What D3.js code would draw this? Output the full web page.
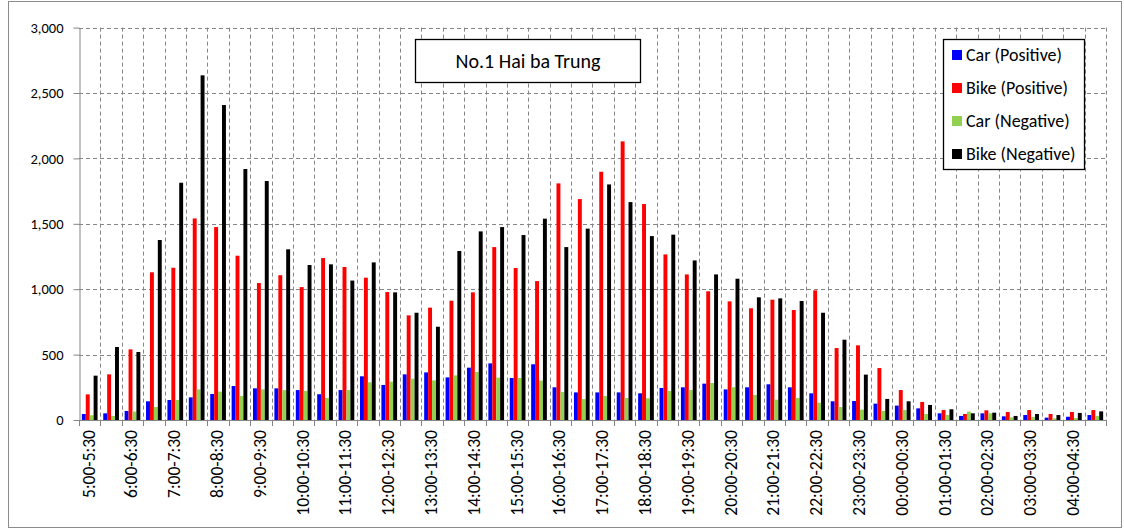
<!DOCTYPE html>
<html>
<head>
<meta charset="utf-8">
<script src="https://cdn.jsdelivr.net/npm/d3@7"></script>
<style>
  html, body { margin: 0; padding: 0; background: #fff; }
  svg { display: block; font-family: Carlito, Lato, "Open Sans", sans-serif; }
</style>
</head>
<body>
<svg id="chart" width="1124" height="530"></svg>
<script>
// Half-hour counting intervals, 5:00 through 04:30
const categories = [
  "5:00-5:30","5:30-6:00","6:00-6:30","6:30-7:00","7:00-7:30","7:30-8:00",
  "8:00-8:30","8:30-9:00","9:00-9:30","9:30-10:00","10:00-10:30","10:30-11:00",
  "11:00-11:30","11:30-12:00","12:00-12:30","12:30-13:00","13:00-13:30","13:30-14:00",
  "14:00-14:30","14:30-15:00","15:00-15:30","15:30-16:00","16:00-16:30","16:30-17:00",
  "17:00-17:30","17:30-18:00","18:00-18:30","18:30-19:00","19:00-19:30","19:30-20:00",
  "20:00-20:30","20:30-21:00","21:00-21:30","21:30-22:00","22:00-22:30","22:30-23:00",
  "23:00-23:30","23:30-00:00","00:00-00:30","00:30-01:00","01:00-01:30","01:30-02:00",
  "02:00-02:30","02:30-03:00","03:00-03:30","03:30-04:00","04:00-04:30","04:30-05:00"
];

const seriesNames = ["Car (Positive)", "Bike (Positive)", "Car (Negative)", "Bike (Negative)"];
const seriesColors = ["#0000FF", "#FF0000", "#92D050", "#000000"];

const carPositive = [
  46, 51, 69, 143, 153, 173, 199, 260, 242, 242, 229, 197,
  229, 334, 268, 349, 364, 326, 400, 433, 321, 426, 250, 211,
  211, 211, 204, 245, 250, 278, 234, 250, 273, 250, 204, 143,
  145, 125, 110, 89, 51, 31, 51, 28, 38, 18, 25, 38
];
const bikePositive = [
  196, 349, 540, 1129, 1164, 1541, 1475, 1256, 1047, 1107, 1016, 1238,
  1170, 1088, 978, 800, 859, 912, 976, 1322, 1162, 1062, 1809, 1689,
  1898, 2130, 1651, 1266, 1113, 984, 907, 854, 920, 841, 991, 550,
  571, 397, 229, 138, 76, 46, 74, 61, 76, 46, 61, 76
];
const carNegative = [
  36, 31, 64, 99, 153, 234, 217, 183, 234, 228, 222, 168,
  229, 288, 293, 316, 303, 341, 367, 324, 321, 301, 214, 160,
  183, 168, 166, 222, 229, 283, 250, 191, 155, 168, 132, 99,
  79, 69, 76, 46, 38, 64, 51, 20, 23, 13, 15, 31
];
const bikeNegative = [
  339, 558, 520, 1376, 1814, 2635, 2408, 1919, 1827, 1305, 1185, 1190,
  1066, 1205, 976, 820, 713, 1292, 1442, 1475, 1414, 1539, 1322, 1463,
  1801, 1666, 1406, 1417, 1220, 1113, 1080, 938, 930, 910, 820, 614,
  347, 161, 143, 115, 82, 51, 56, 31, 46, 38, 54, 66
];

const yTicks = [0, 500, 1000, 1500, 2000, 2500, 3000];
const chartTitle = "No.1 Hai ba Trung";

const seriesValues = [carPositive, bikePositive, carNegative, bikeNegative];

const svg = d3.select("#chart");
const plot = { left: 79, right: 1106, top: 27.6, bottom: 420 };

// Outer chart frame
svg.append("rect")
  .attr("x", 8.5).attr("y", 1.5)
  .attr("width", 1113).attr("height", 526)
  .attr("fill", "#fff").attr("stroke", "#8c8c8c").attr("stroke-width", 1);

const x0 = d3.scaleBand()
  .domain(categories)
  .range([plot.left, plot.right])
  .paddingInner(0.266)
  .paddingOuter(0.133);

const x1 = d3.scaleBand()
  .domain(d3.range(seriesNames.length))
  .range([0, x0.bandwidth()]);

const y = d3.scaleLinear().domain([0, 3000]).range([plot.bottom, plot.top]);

const boundary = c => x0(c) - x0.step() * x0.paddingInner() / 2;
const boundaries = categories.map(boundary).concat([plot.right]);

// Dashed grid
const grid = svg.append("g").attr("stroke", "#858585").attr("stroke-width", 1)
  .attr("stroke-dasharray", "4,3").attr("fill", "none");
grid.selectAll("line.h").data(yTicks.filter(v => v > 0)).join("line")
  .attr("class", "h")
  .attr("x1", plot.left).attr("x2", plot.right)
  .attr("y1", d => Math.round(y(d)) + 0.5).attr("y2", d => Math.round(y(d)) + 0.5);
grid.selectAll("line.v").data(boundaries.slice(1)).join("line")
  .attr("class", "v")
  .attr("x1", d => Math.round(d) + 0.5).attr("x2", d => Math.round(d) + 0.5)
  .attr("y1", plot.top).attr("y2", plot.bottom);

// Bars
const rows = categories.map((c, i) => ({ cat: c, vals: seriesValues.map(s => s[i]) }));
svg.append("g").selectAll("g").data(rows).join("g")
  .attr("transform", d => `translate(${x0(d.cat)},0)`)
  .selectAll("rect").data(d => d.vals.map((v, k) => ({ v, k }))).join("rect")
  .attr("x", d => x1(d.k))
  .attr("width", x1.bandwidth())
  .attr("y", d => y(d.v))
  .attr("height", d => y(0) - y(d.v))
  .attr("fill", d => seriesColors[d.k]);

// Y axis
const yAxis = svg.append("g").attr("transform", `translate(${Math.round(plot.left) + 0.5},0)`)
  .call(d3.axisLeft(y).tickValues(yTicks).tickSize(6).tickSizeOuter(0).tickFormat(d3.format(",")).tickPadding(10));
yAxis.select(".domain").attr("stroke", "#858585");
yAxis.selectAll(".tick line").attr("stroke", "#858585");
yAxis.selectAll(".tick text").attr("font-size", 14.5).attr("fill", "#000")
  .attr("font-family", "Carlito, Lato, sans-serif");

// X axis line and boundary ticks
const xAxisG = svg.append("g");
xAxisG.append("line")
  .attr("x1", plot.left).attr("x2", plot.right + 1)
  .attr("y1", plot.bottom + 0.5).attr("y2", plot.bottom + 0.5)
  .attr("stroke", "#858585");
xAxisG.selectAll("line.t").data(boundaries).join("line")
  .attr("class", "t")
  .attr("x1", d => Math.round(d) + 0.5).attr("x2", d => Math.round(d) + 0.5)
  .attr("y1", plot.bottom).attr("y2", plot.bottom + 6)
  .attr("stroke", "#858585");

// Category labels, every other interval, rotated
xAxisG.selectAll("text").data(categories.filter((c, i) => i % 2 === 0)).join("text")
  .attr("transform", d => `translate(${x0(d) + x0.bandwidth() / 2 + 5},${plot.bottom + 10}) rotate(-90)`)
  .attr("text-anchor", "end")
  .attr("font-size", 17.5)
  .attr("fill", "#000")
  .text(d => d);

// Title box
const tb = svg.append("g");
tb.append("rect").attr("x", 415.5).attr("y", 39.5).attr("width", 225).attr("height", 43)
  .attr("fill", "#fff").attr("stroke", "#000").attr("stroke-width", 1.3);
tb.append("text").attr("x", 528).attr("y", 68).attr("text-anchor", "middle")
  .attr("font-size", 20).attr("fill", "#000").text(chartTitle);

// Legend
const lg = svg.append("g");
lg.append("rect").attr("x", 943.5).attr("y", 39.5).attr("width", 141).attr("height", 130)
  .attr("fill", "#fff").attr("stroke", "#000").attr("stroke-width", 1.3);
const items = lg.selectAll("g.item").data(seriesNames).join("g")
  .attr("class", "item")
  .attr("transform", (d, i) => `translate(952,${55 + i * 33})`);
items.append("rect").attr("x", 0).attr("y", -5).attr("width", 10).attr("height", 10)
  .attr("fill", (d, i) => seriesColors[i]);
items.append("text").attr("x", 14).attr("y", 6).attr("font-size", 18).attr("fill", "#000")
  .text(d => d);
</script>
</body>
</html>
